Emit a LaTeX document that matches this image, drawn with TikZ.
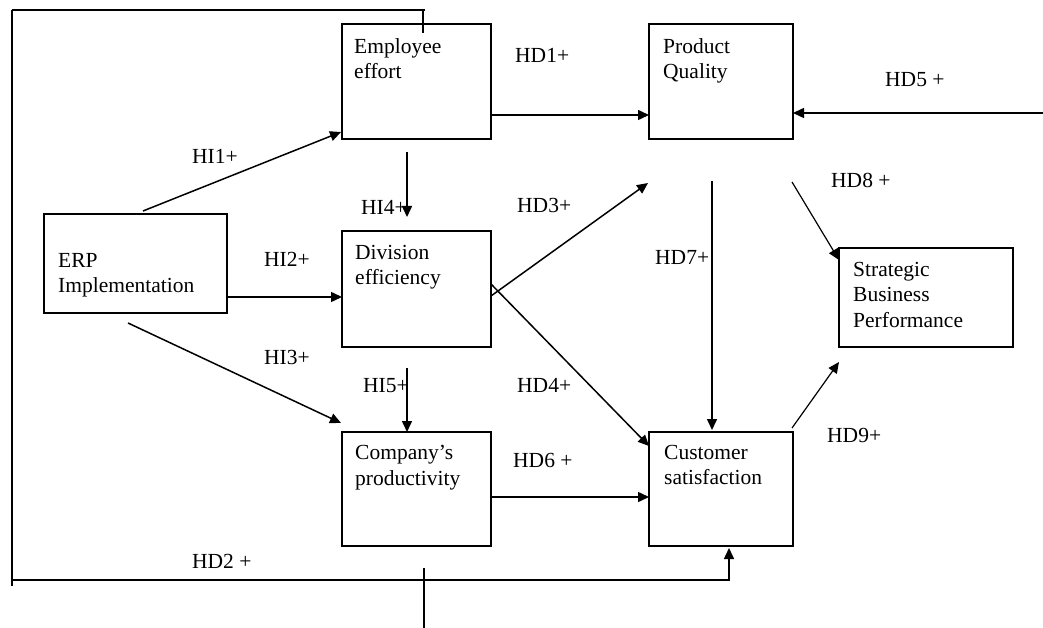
\documentclass[tikz,border=0pt]{standalone}
\usepackage{fontspec}
\setmainfont{Liberation Serif}
\usetikzlibrary{arrows.meta}
\begin{document}
\begin{tikzpicture}[x=1pt,y=-1pt,
  blk/.style={draw, line width=1.6pt, inner sep=0pt},
  boxtext/.style={anchor=north west, inner sep=0pt, align=left, font=\fontsize{21.5}{25.5}\selectfont},
  lab/.style={anchor=base west, inner sep=0pt, font=\fontsize{21.5}{25.5}\selectfont},
  conn/.style={line width=1.5pt, -{Triangle[length=11pt,width=10pt]}},
  plain/.style={line width=1.5pt}]
\useasboundingbox[fill=white] (0,0) rectangle (1043,628);

% boxes
\node (ee)  [blk, minimum width=149pt, minimum height=115pt] at (416.5,81.5) {};
\node (pq)  [blk, minimum width=144pt, minimum height=115pt] at (721,81.5) {};
\node (erp) [blk, minimum width=183pt, minimum height=99pt]  at (135.5,263.5) {};
\node (de)  [blk, minimum width=149pt, minimum height=116pt] at (416.5,289) {};
\node (sbp) [blk, minimum width=174pt, minimum height=99pt]  at (926,297.5) {};
\node (cp)  [blk, minimum width=149pt, minimum height=114pt] at (416.5,489) {};
\node (cs)  [blk, minimum width=144pt, minimum height=114pt] at (721,489) {};

% box texts
\node (eet)  [boxtext] at (354,38)  {Employee\\effort};
\node (pqt)  [boxtext] at (663,38)  {Product\\Quality};
\node (erpt) [boxtext] at (58,253)  {ERP\\Implementation};
\node (det)  [boxtext] at (355,245) {Division\\efficiency};
\node (sbpt) [boxtext] at (853,262) {Strategic\\Business\\Performance};
\node (cpt)  [boxtext] at (355,445) {Company’s\\productivity};
\node (cst)  [boxtext] at (664,445) {Customer\\satisfaction};

% labels
\node (hi1) [lab] at (192,164) {HI1+};
\node (hd1) [lab] at (515,63)  {HD1+};
\node (hd5) [lab] at (885,87)  {HD5 +};
\node (hi4) [lab] at (361,215) {HI4+};
\node (hd3) [lab] at (517,213) {HD3+};
\node (hi2) [lab] at (264,266) {HI2+};
\node (hd7) [lab] at (655,265) {HD7+};
\node (hd8) [lab] at (831,188) {HD8 +};
\node (hi3) [lab] at (264,364) {HI3+};
\node (hi5) [lab] at (363,392) {HI5+};
\node (hd4) [lab] at (517,392) {HD4+};
\node (hd6) [lab] at (513,467) {HD6 +};
\node (hd9) [lab] at (827,442) {HD9+};
\node (hd2) [lab] at (192,568) {HD2 +};

% free ends
\coordinate (a1s) at (143,211);  \coordinate (a1e) at (341,132);
\coordinate (a2s) at (227,297);  \coordinate (a2e) at (342,297);
\coordinate (a3s) at (128,323);  \coordinate (a3e) at (341,423);
\coordinate (a4s) at (407,152);  \coordinate (a4e) at (407,217);
\coordinate (a5s) at (407,368);  \coordinate (a5e) at (407,432);
\coordinate (b1s) at (491,115);  \coordinate (b1e) at (649,115);
\coordinate (b5s) at (1043,113); \coordinate (b5e) at (793,113);
\coordinate (b3s) at (491,296);  \coordinate (b3e) at (648,183);
\coordinate (b4s) at (491,284);  \coordinate (b4e) at (649,446);
\coordinate (b7s) at (712,181);  \coordinate (b7e) at (712,430);
\coordinate (b8s) at (792,182);  \coordinate (b8e) at (839,260);
\coordinate (b9s) at (792,428);  \coordinate (b9e) at (839,362);
\coordinate (b6s) at (491,497);  \coordinate (b6e) at (649,497);

\draw[conn] (a1s) -- (a1e);
\draw[conn] (a2s) -- (a2e);
\draw[conn] (a3s) -- (a3e);
\draw[conn] (a4s) -- (a4e);
\draw[conn] (a5s) -- (a5e);
\draw[conn] (b1s) -- (b1e);
\draw[conn] (b5s) -- (b5e);
\draw[conn] (b3s) -- (b3e);
\draw[conn] (b4s) -- (b4e);
\draw[conn] (b7s) -- (b7e);
\draw[conn, line width=1.2pt] (b8s) -- (b8e);
\draw[conn, line width=1.2pt] (b9s) -- (b9e);
\draw[conn] (b6s) -- (b6e);

% HD2 loop
\coordinate (tl) at (12,10);
\coordinate (tr) at (425,10);
\coordinate (tk1) at (423,10);
\coordinate (tk2) at (423,33);
\coordinate (bl) at (12,580);
\coordinate (blend) at (12,586);
\coordinate (br) at (729,580);
\coordinate (cse) at (729,548);
\coordinate (vb1) at (424,568);
\coordinate (vb2) at (424,628);
\draw[line width=1.1pt] (tl) -- (tr);
\draw[line width=1.1pt] (tk1) -- (tk2);
\draw[line width=1.8pt] (tl) -- (blend);
\draw[conn] (bl) -- (br) -- (cse);
\draw[line width=1.1pt] (vb1) -- (vb2);
\end{tikzpicture}
\end{document}
